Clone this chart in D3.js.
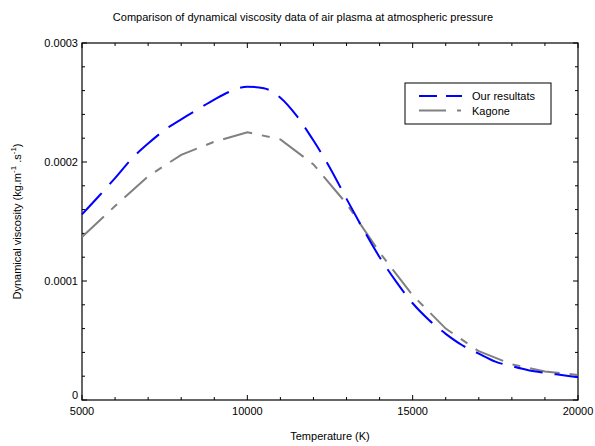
<!DOCTYPE html>
<html>
<head>
<meta charset="utf-8">
<script src="https://cdn.jsdelivr.net/npm/d3@7"></script>
<style>
    body { margin: 0; background: #fff; }
    text { font-family: "Liberation Sans", Arial, sans-serif; fill: #000; }
</style>
</head>
<body>
<div id="chart"></div>
<script>
// Our results (blue), smooth curve sampled every 500 K
const oursT = [5000, 5500, 6000, 6500, 7000, 7500, 8000, 8500, 9000, 9500, 10000, 10500, 11000, 11500,
    12000, 12500, 13000, 13500, 14000, 14500, 15000, 15500, 16000, 16500, 17000, 17500, 18000, 18500,
    19000, 19500, 20000];
const oursMu = [1.56, 1.71, 1.865, 2.026, 2.155, 2.269, 2.359, 2.443, 2.525, 2.595, 2.633, 2.62, 2.54, 2.385,
    2.18, 1.95, 1.69, 1.438, 1.2, 0.995, 0.813, 0.671, 0.556, 0.46, 0.39, 0.323, 0.284, 0.25,
    0.228, 0.21, 0.192].map(v => v * 1e-4);

// Kagone data (gray), every 1000 K
const kagT = [5000, 6000, 7000, 8000, 9000, 10000, 11000, 12000, 13000, 14000, 15000, 16000, 17000, 18000, 19000, 20000];
const kagMu = [1.37, 1.63, 1.88, 2.06, 2.17, 2.25, 2.19, 1.98, 1.65, 1.24, 0.88, 0.60, 0.41, 0.30, 0.24, 0.21]
    .map(v => v * 1e-4);

const xTicks = [5000, 10000, 15000, 20000];
const yTicks = [0, 0.0001, 0.0002, 0.0003];
const yTickLabels = ["0", "0.0001", "0.0002", "0.0003"];

const width = 595, height = 446;
const margin = { top: 43, left: 82, bottom: 46, right: 17 };
const w = width - margin.left - margin.right;
const h = height - margin.top - margin.bottom;

const svg = d3.select("#chart").append("svg")
    .attr("width", width)
    .attr("height", height);

const x = d3.scaleLinear().domain([5000, 20000]).range([0, w]);
const y = d3.scaleLinear().domain([0, 0.0003]).range([h, 0]);

const g = svg.append("g").attr("transform", `translate(${margin.left}, ${margin.top})`);

// Title
svg.append("text")
    .attr("x", 303).attr("y", 21)
    .attr("text-anchor", "middle")
    .style("font-size", "11px")
    .text("Comparison of dynamical viscosity data of air plasma at atmospheric pressure");

// Inward ticks on all four sides: minor then major.
const tickG = g.append("g").attr("stroke", "#000").attr("stroke-width", 1);
const xMinor = d3.range(5000, 20001, 1000);
const yMinor = d3.range(0, 0.00030001, 0.00002);
xMinor.forEach(t => {
    const len = t % 5000 === 0 ? 5 : 3;
    tickG.append("line").attr("x1", x(t)).attr("x2", x(t)).attr("y1", h).attr("y2", h - len);
    tickG.append("line").attr("x1", x(t)).attr("x2", x(t)).attr("y1", 0).attr("y2", len);
});
yMinor.forEach((t, i) => {
    const len = i % 5 === 0 ? 5 : 3;
    tickG.append("line").attr("x1", 0).attr("x2", len).attr("y1", y(t)).attr("y2", y(t));
    tickG.append("line").attr("x1", w).attr("x2", w - len).attr("y1", y(t)).attr("y2", y(t));
});

// Tick labels
g.append("g").selectAll("text").data(xTicks).join("text")
    .attr("x", d => x(d)).attr("y", h + 15)
    .attr("text-anchor", "middle")
    .style("font-size", "11px")
    .text(d => d);

g.append("g").selectAll("text").data(yTicks).join("text")
    .attr("x", -4).attr("y", (d, i) => y(d) + (i === 0 ? -1 : 4))
    .attr("text-anchor", "end")
    .style("font-size", "11px")
    .text((d, i) => yTickLabels[i]);

// Frame
g.append("rect")
    .attr("width", w).attr("height", h)
    .attr("fill", "none").attr("stroke", "#000").attr("stroke-width", 1.2);

// Axis labels
svg.append("text")
    .attr("x", margin.left + w / 2).attr("y", 440)
    .attr("text-anchor", "middle")
    .style("font-size", "11px")
    .text("Temperature (K)");

const yl = svg.append("text")
    .attr("transform", `translate(21, ${margin.top + h / 2}) rotate(-90)`)
    .attr("text-anchor", "middle")
    .style("font-size", "11px");
yl.append("tspan").text("Dynamical viscosity (kg.m");
yl.append("tspan").attr("dy", -5).style("font-size", "8px").text("-1");
yl.append("tspan").attr("dy", 5).text(" .s");
yl.append("tspan").attr("dy", -5).style("font-size", "8px").text("-1");
yl.append("tspan").attr("dy", 5).text(")");

// Curves
const plot = g.append("g");
const smooth = d3.line().x(d => x(d[0])).y(d => y(d[1])).curve(d3.curveMonotoneX);
const poly = d3.line().x(d => x(d[0])).y(d => y(d[1]));

plot.append("path")
    .attr("d", poly(kagT.map((t, i) => [t, kagMu[i]])))
    .attr("fill", "none").attr("stroke", "#808080").attr("stroke-width", 2)
    .attr("stroke-dasharray", "30,10,8,10");

plot.append("path")
    .attr("d", smooth(oursT.map((t, i) => [t, oursMu[i]])))
    .attr("fill", "none").attr("stroke", "#0000ff").attr("stroke-width", 2)
    .attr("stroke-dasharray", "29,12");

// Legend
const leg = svg.append("g").attr("transform", "translate(405, 83)");
leg.append("rect").attr("width", 146).attr("height", 41)
    .attr("fill", "#fff").attr("stroke", "#000").attr("stroke-width", 1);
const legItems = [
    { name: "Our resultats", color: "#0000ff", dash: "18,9" },
    { name: "Kagone", color: "#808080", dash: "27,11,4,11" }
];
legItems.forEach((d, i) => {
    const yy = 13 + i * 14.5;
    leg.append("line").attr("x1", 14).attr("x2", 57).attr("y1", yy).attr("y2", yy)
        .attr("stroke", d.color).attr("stroke-width", 2).attr("stroke-dasharray", d.dash);
    leg.append("text").attr("x", 67).attr("y", yy + 4)
        .style("font-size", "11px").text(d.name);
});
</script>
</body>
</html>
